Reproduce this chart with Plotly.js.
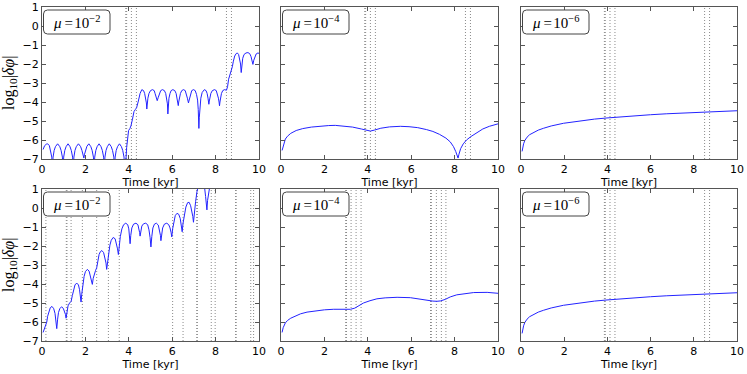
<!DOCTYPE html>
<html><head><meta charset="utf-8">
<script src="https://cdn.plot.ly/plotly-3.0.1.min.js"></script>
<style>html,body{margin:0;padding:0;background:#fff;}#plot{width:747px;height:374px;}</style>
</head><body><div id="plot"></div>
<script>
// ---- data ----
const panelLabels = ["10<sup>−2</sup>","10<sup>−4</sup>","10<sup>−6</sup>","10<sup>−2</sup>","10<sup>−4</sup>","10<sup>−6</sup>"];
const xTicks = [0,2,4,6,8,10];
const yTicks = [-7,-6,-5,-4,-3,-2,-1,0,1];

// top-left: mu = 1e-2
const tA = [0.05,0.12,0.2,0.26,0.34,0.4,0.45,0.48,
 0.51,0.56,0.62,0.72,0.82,0.88,0.94,0.97,
 1.0,1.05,1.11,1.2,1.29,1.35,1.41,1.44,
 1.47,1.52,1.58,1.68,1.78,1.84,1.9,1.93,
 1.96,2.01,2.07,2.16,2.25,2.31,2.37,2.4,
 2.43,2.48,2.54,2.63,2.72,2.78,2.84,2.87,
 2.9,2.95,3.01,3.1,3.19,3.25,3.31,3.34,
 3.37,3.42,3.48,3.57,3.66,3.72,3.78,3.81,
 3.86,3.9,3.94,3.99,4.05,4.1,4.17,4.24,4.3,4.36,4.44,4.52,
 4.6,4.68,4.73,4.78,4.81,4.83,4.85,4.88,4.93,5.0,
 5.09,5.17,5.21,5.26,5.31,5.36,5.41,5.47,
 5.55,5.64,5.7,5.75,5.78,5.8,5.82,5.85,5.9,5.95,
 6.03,6.12,6.18,6.23,6.26,6.28,6.3,6.33,6.38,6.44,
 6.52,6.6,6.65,6.7,6.73,6.75,6.77,6.8,6.85,6.9,
 6.98,7.06,7.12,7.17,7.2,7.22,7.23,7.25,7.28,7.32,7.38,
 7.48,7.56,7.61,7.65,7.67,7.69,7.71,7.74,7.78,7.85,
 7.95,8.03,8.08,8.13,8.16,8.18,8.2,8.23,8.27,8.33,
 8.41,8.5,8.55,8.6,8.66,8.72,8.77,8.82,8.88,8.95,
 9.0,9.06,9.11,9.15,9.18,9.21,9.25,9.31,9.4,
 9.49,9.57,9.63,9.68,9.72,9.76,9.81,9.87,9.95,10.0];
const vA = [-6.5,-6.3,-6.22,-6.2,-6.3,-6.55,-6.9,-7.6,
 -6.9,-6.55,-6.35,-6.2,-6.35,-6.55,-6.9,-7.6,
 -6.9,-6.55,-6.35,-6.2,-6.35,-6.55,-6.9,-7.6,
 -6.9,-6.55,-6.35,-6.2,-6.35,-6.55,-6.8,-6.95,
 -6.75,-6.5,-6.33,-6.2,-6.35,-6.55,-6.9,-7.6,
 -6.9,-6.55,-6.35,-6.2,-6.35,-6.55,-6.9,-7.6,
 -6.9,-6.55,-6.35,-6.2,-6.35,-6.55,-6.9,-7.6,
 -6.9,-6.55,-6.35,-6.2,-6.35,-6.55,-6.9,-7.6,
 -7.2,-6.4,-5.75,-5.5,-5.4,-5.25,-4.9,-4.5,-4.4,-4.3,-3.95,-3.55,
 -3.35,-3.4,-3.55,-3.8,-4.05,-4.37,-4.05,-3.8,-3.55,-3.4,
 -3.35,-3.4,-3.55,-3.75,-3.93,-3.75,-3.55,-3.4,
 -3.35,-3.4,-3.55,-3.8,-4.1,-4.63,-4.1,-3.8,-3.55,-3.4,
 -3.35,-3.4,-3.55,-3.8,-4.0,-4.19,-4.0,-3.8,-3.55,-3.4,
 -3.35,-3.4,-3.55,-3.8,-3.95,-4.05,-3.95,-3.8,-3.55,-3.4,
 -3.35,-3.4,-3.6,-3.9,-4.4,-5.0,-5.39,-4.8,-4.2,-3.8,-3.5,
 -3.35,-3.4,-3.55,-3.8,-3.95,-4.12,-3.95,-3.8,-3.55,-3.4,
 -3.35,-3.4,-3.55,-3.8,-4.0,-4.2,-4.0,-3.8,-3.55,-3.4,
 -3.35,-3.38,-3.2,-2.8,-2.55,-2.42,-2.15,-1.85,-1.58,-1.45,
 -1.42,-1.5,-1.7,-2.0,-2.45,-2.0,-1.7,-1.5,-1.42,
 -1.4,-1.45,-1.6,-1.8,-2.02,-1.8,-1.6,-1.47,-1.42,-1.44];

// bottom-left: mu = 1e-2
const tD = [0.05,0.1,0.18,0.22,0.26,0.32,0.38,0.46,0.54,0.6,0.64,0.68,0.72,0.76,0.82,0.9,0.98,1.04,1.08,1.11,
 1.14,1.2,1.27,1.34,1.4,1.46,1.52,1.6,1.68,1.73,1.77,1.8,1.83,1.88,1.94,2.0,2.09,2.17,2.23,2.28,2.32,
 2.36,2.41,2.47,2.52,2.57,2.63,2.69,2.76,2.84,2.9,2.95,2.98,3.02,3.07,3.13,3.19,3.28,3.37,3.43,3.48,3.52,
 3.56,3.61,3.68,3.76,3.86,3.95,4.0,4.04,4.06,4.09,4.14,4.22,4.33,4.42,4.47,4.5,4.52,4.55,4.6,4.68,4.78,
 4.87,4.93,4.98,5.02,5.06,5.11,5.18,5.27,5.36,5.42,5.46,5.48,5.51,5.56,5.64,5.75,5.84,5.9,5.95,5.98,
 6.02,6.07,6.14,6.22,6.3,6.37,6.42,6.46,6.5,6.56,6.63,6.71,6.78,6.85,6.91,6.95,6.98,7.02,7.08,7.14,7.2,
 7.3,7.4,7.48,7.54,7.58,7.6,7.63,7.68,7.74,7.85];
const vD = [-6.55,-6.4,-6.2,-6.0,-5.7,-5.4,-5.25,-5.18,-5.3,-5.55,-5.85,-6.35,-5.85,-5.5,-5.3,-5.2,-5.28,-5.45,-5.6,-5.8,
 -5.55,-5.15,-5.0,-4.92,-4.6,-4.25,-4.05,-3.95,-4.05,-4.3,-4.6,-4.95,-4.55,-4.0,-3.6,-3.35,-3.23,-3.32,-3.55,-3.8,-4.02,
 -3.7,-3.45,-3.28,-3.15,-2.8,-2.45,-2.3,-2.24,-2.35,-2.6,-2.9,-3.23,-2.8,-2.35,-1.95,-1.7,-1.55,-1.62,-1.85,-2.15,-2.45,
 -2.0,-1.5,-1.1,-0.88,-0.8,-0.88,-1.1,-1.45,-1.88,-1.45,-1.05,-0.85,-0.8,-0.88,-1.1,-1.3,-1.48,-1.2,-0.95,-0.83,-0.8,
 -0.88,-1.15,-1.55,-2.05,-1.5,-1.05,-0.85,-0.8,-0.9,-1.15,-1.45,-1.72,-1.4,-1.05,-0.85,-0.8,-0.88,-1.05,-1.3,-1.52,
 -1.1,-0.7,-0.4,-0.28,-0.33,-0.55,-0.85,-1.25,-0.8,-0.3,0.05,0.28,0.3,0.12,-0.15,-0.45,-0.75,-0.2,0.35,0.85,1.3,
 1.7,1.6,1.2,0.6,0.1,-0.1,0.4,0.9,1.4,2.0];

// top-middle: mu = 1e-4
const tB = [0.05,0.12,0.2,0.3,0.45,0.7,1.0,1.4,1.8,2.2,2.5,2.9,3.3,3.7,3.95,4.12,4.3,4.6,5.0,5.5,5.9,6.3,6.7,7.0,7.3,7.6,7.8,7.95,8.05,8.12,8.16,8.2,8.28,8.4,8.55,8.75,9.0,9.3,9.6,10.0];
const vB = [-6.55,-6.2,-5.95,-5.8,-5.65,-5.5,-5.4,-5.32,-5.27,-5.24,-5.23,-5.26,-5.32,-5.42,-5.5,-5.53,-5.48,-5.38,-5.31,-5.28,-5.3,-5.35,-5.45,-5.55,-5.7,-5.9,-6.1,-6.35,-6.6,-6.85,-6.95,-6.75,-6.45,-6.2,-6.0,-5.82,-5.62,-5.42,-5.28,-5.15];

// bottom-middle: mu = 1e-4
const tE = [0.05,0.1,0.2,0.3,0.45,0.7,0.9,1.2,1.66,2.0,2.43,2.8,3.0,3.2,3.4,3.6,3.8,4.1,4.42,4.8,5.35,5.96,6.4,6.73,7.0,7.19,7.35,7.57,7.8,8.1,8.5,8.88,9.5,10.0];
const vE = [-6.55,-6.3,-6.05,-5.92,-5.8,-5.65,-5.57,-5.48,-5.4,-5.36,-5.33,-5.33,-5.34,-5.33,-5.27,-5.15,-5.0,-4.88,-4.78,-4.73,-4.7,-4.72,-4.8,-4.87,-4.9,-4.91,-4.89,-4.81,-4.68,-4.57,-4.5,-4.45,-4.44,-4.49];

// right column: mu = 1e-6
const tC = [0.05,0.08,0.12,0.18,0.28,0.4,0.59,0.8,1.05,1.4,1.97,2.5,2.9,3.4,3.98,4.6,5.2,6.0,6.75,7.5,8.29,9.1,10.0];
const vC = [-6.6,-6.4,-6.2,-6.02,-5.85,-5.72,-5.6,-5.48,-5.38,-5.26,-5.12,-5.03,-4.97,-4.9,-4.84,-4.78,-4.73,-4.67,-4.62,-4.58,-4.54,-4.5,-4.46];

// dotted event lines (kyr)
const evTop = [3.86,3.9,4.12,4.35,8.5,8.73];
const evBL = [0.18,1.12,1.15,1.34,1.86,2.52,3.06,3.56,6.02,6.5,7.13,7.16,7.8,7.98,8.92,8.95,9.62,9.75];
const evBM = [2.98,3.02,3.23,3.46,3.69,6.89,6.93,7.16,7.39,7.6];
const evBR = [3.86,3.9,4.12,4.35,8.5,8.73];

// ---- figure ----
const W = 747, H = 374;
const colsPx = [[42,259],[281,498],[521,737]];
const rowsPx = [[7,159],[189,341]];
const series = [[tA,vA],[tB,vB],[tC,vC],[tD,vD],[tE,vE],[tC,vC]];
const events = [evTop,evTop,evTop,evBL,evBM,evBR];

const traces = [];
const layout = {
  width: W, height: H, margin:{l:0,r:0,t:0,b:0},
  paper_bgcolor:'#fff', plot_bgcolor:'#fff', showlegend:false,
  font:{family:'DejaVu Sans', size:11, color:'#000'},
  shapes:[], annotations:[]
};
const frame = '#555';
for (let i=0;i<6;i++){
  const r = Math.floor(i/3), c = i%3;
  const sfx = i===0 ? '' : String(i+1);
  const xa = 'x'+sfx, ya = 'y'+sfx;
  traces.push({x:series[i][0], y:series[i][1], xaxis:xa, yaxis:ya, type:'scatter', mode:'lines',
    line:{color:'rgb(35,35,255)', width:1}, hoverinfo:'skip'});
  layout['xaxis'+sfx] = {domain:[colsPx[c][0]/W, colsPx[c][1]/W], anchor:ya, range:[0,10],
    tickvals:xTicks, ticks:'inside', ticklen:4, tickcolor:frame, showline:true, linecolor:frame, linewidth:1,
    mirror:'ticks', showgrid:false, zeroline:false, tickfont:{size:11, family:'DejaVu Sans'},
    title:{text:'Time [kyr]', font:{size:11, family:'DejaVu Sans'}, standoff:1}, automargin:false};
  layout['yaxis'+sfx] = {domain:[1-rowsPx[r][1]/H, 1-rowsPx[r][0]/H], anchor:xa, range:[-7,1],
    tickvals:yTicks, ticks:'inside', ticklen:4, tickcolor:frame, showline:true, linecolor:frame, linewidth:1,
    mirror:'ticks', showgrid:false, zeroline:false, showticklabels:(c===0),
    tickfont:{size:11, family:'DejaVu Sans'}, automargin:false};
  events[i].forEach(function(ev){
    layout.shapes.push({type:'line', xref:xa, yref:ya+' domain', x0:ev, x1:ev, y0:0, y1:1,
      line:{color:'#8a8a8a', width:1, dash:'1px,2px'}, layer:'below'});
  });
  // rounded label box
  const pw = colsPx[c][1]-colsPx[c][0], ph = rowsPx[r][1]-rowsPx[r][0];
  const x0 = 1.5/pw, x1 = 68/pw, y1 = 1-3/ph, y0 = 1-27/ph, rx = 4/pw, ry = 4/ph;
  const p = 'M '+(x0+rx)+','+y1+' L '+(x1-rx)+','+y1+' Q '+x1+','+y1+' '+x1+','+(y1-ry)+
    ' L '+x1+','+(y0+ry)+' Q '+x1+','+y0+' '+(x1-rx)+','+y0+' L '+(x0+rx)+','+y0+
    ' Q '+x0+','+y0+' '+x0+','+(y0+ry)+' L '+x0+','+(y1-ry)+' Q '+x0+','+y1+' '+(x0+rx)+','+y1+' Z';
  layout.shapes.push({type:'path', xref:xa+' domain', yref:ya+' domain', path:p,
    fillcolor:'#fff', line:{color:'#444', width:1}, layer:'above'});
  layout.annotations.push({xref:xa+' domain', yref:ya+' domain', x:(x0+x1)/2, y:(y0+y1)/2,
    xanchor:'center', yanchor:'middle', showarrow:false,
    text:'<i>μ</i>\u2009=\u200a'+panelLabels[i], font:{family:'Liberation Serif', size:15, color:'#000'}});
  if (c===0){
    layout.annotations.push({xref:'paper', yref:'paper', x:9/W, y:1-(rowsPx[r][0]+rowsPx[r][1])/2/H,
      xanchor:'center', yanchor:'middle', showarrow:false, textangle:-90,
      text:'log<sub>10</sub>|<i>δφ</i>|', font:{family:'Liberation Serif', size:16, color:'#000'}});
  }
}
Plotly.newPlot('plot', traces, layout, {staticPlot:true});
</script></body></html>
